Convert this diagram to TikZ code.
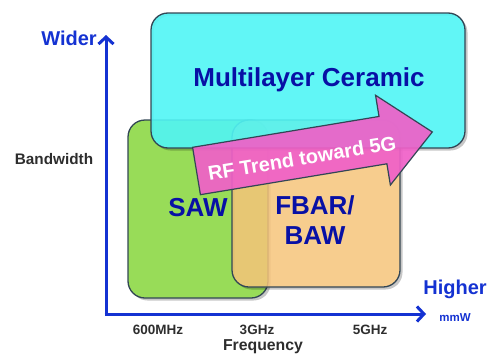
\documentclass[tikz,border=0pt]{standalone}
\usepackage{fontspec}
\setmainfont{Liberation Sans}
\usetikzlibrary{arrows.meta}
\definecolor{cyanfill}{RGB}{80,245,245}
\definecolor{greenfill}{RGB}{152,220,88}
\definecolor{orangefill}{RGB}{246,196,122}
\definecolor{pinkfill}{RGB}{240,96,200}
\definecolor{labelblue}{RGB}{8,16,165}
\definecolor{axisblue}{RGB}{20,50,210}
\definecolor{edgegray}{RGB}{50,70,85}
\definecolor{txtgray}{RGB}{45,45,45}
\tikzset{
  techbox/.style={draw=edgegray, line width=1.3pt, rounded corners=17pt},
  boxshadow/.style={fill=black, opacity=0.22, rounded corners=17pt, even odd rule},
  techlabel/.style={font=\bfseries\fontsize{26}{28}\selectfont, text=labelblue, align=center, inner sep=0pt},
  axislabel/.style={font=\bfseries\fontsize{20}{22}\selectfont, text=axisblue, inner sep=0pt},
  ticklabel/.style={font=\bfseries\fontsize{13.5}{15}\selectfont, text=txtgray, inner sep=0pt},
  axisline/.style={draw=axisblue, line width=3pt, -{Straight Barb[length=7pt,width=15pt,line width=3pt]}}
}
\begin{document}
\begin{tikzpicture}[x=1pt,y=-1pt]
\useasboundingbox (0,0) rectangle (492,356);
% boxes
\fill[boxshadow] (130.5,122.5) rectangle (270.5,300.5) (128,120) rectangle (268,298);
\draw[techbox, fill=greenfill] (128,120) rectangle (268,298);
\fill[boxshadow] (234.5,122.5) rectangle (402.5,289.5) (232,120) rectangle (400,287);
\draw[techbox, fill=orangefill, fill opacity=0.85] (232,120) rectangle (400,287);
\fill[boxshadow] (153.5,15.5) rectangle (467.5,150.5) (151,13) rectangle (465,148);
\draw[techbox, fill=cyanfill, fill opacity=0.9] (151,13) rectangle (465,148);
% pink arrow
\begin{scope}[shift={(196.5,171)}, rotate=9.4]
  \draw[draw=edgegray, line width=1.2pt, fill=pinkfill, fill opacity=0.92, line join=miter]
    (0,-24) -- (189,-24) -- (189,-45.5) -- (239,0) -- (189,45.5) -- (189,24) -- (0,24) -- cycle;
\end{scope}
\node[font=\bfseries\fontsize{20}{22}\selectfont, text=white, rotate=9.4, inner sep=0pt] (trend) at (302,158) {RF Trend toward 5G};
% box labels
\node[techlabel] (mlc) at (309,80) {Multilayer Ceramic};
\node[techlabel] (saw) at (198,208) {SAW};
\node[techlabel] (fbar) at (315,220) {FBAR/\\[2pt]BAW};
% axes
\coordinate (origin) at (106,314);
\coordinate (ytip) at (106,35);
\coordinate (xtip) at (426,314);
\draw[axisline] (origin) -- (ytip);
\draw[axisline] ([xshift=-1.5pt]origin) -- (xtip);
% axis labels
\node[axislabel] (wider) at (69,38) {Wider};
\node[axislabel] (higher) at (455,289) {Higher};
\node[font=\bfseries\fontsize{11.5}{13}\selectfont, text=axisblue, inner sep=0pt] (mmw) at (455,318) {mmW};
\node[font=\bfseries\fontsize{15.3}{17}\selectfont, text=txtgray, inner sep=0pt] (bw) at (54,159) {Bandwidth};
\node[ticklabel] (t600) at (158,330) {600MHz};
\node[ticklabel] (t3) at (257,330) {3GHz};
\node[ticklabel] (t5) at (370,330) {5GHz};
\node[font=\bfseries\fontsize{15.8}{17}\selectfont, text=txtgray, inner sep=0pt] (freq) at (263,347) {Frequency};
\end{tikzpicture}
\end{document}
